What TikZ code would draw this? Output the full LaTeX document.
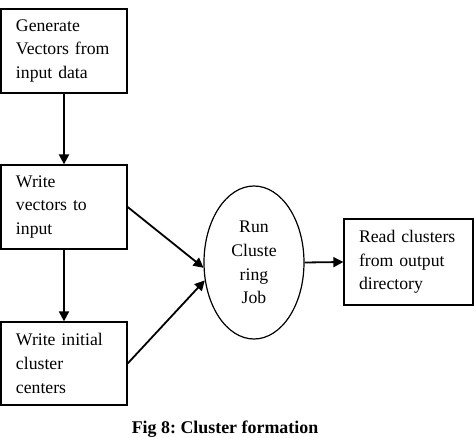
\documentclass[tikz,border=0pt]{standalone}
\usepackage{fontspec}
\setmainfont{Liberation Serif}
\usetikzlibrary{shapes.geometric,arrows.meta}
\frenchspacing
\begin{document}
\begin{tikzpicture}[x=1pt,y=-1pt,
  txt/.style={font=\fontsize{17.7}{23.7}\selectfont},
  box/.style={txt,draw,line width=1.3pt,align=left,text width=96pt,inner xsep=15pt,inner ysep=0pt,minimum height=84pt},
  oval/.style={txt,draw,ellipse,line width=1.2pt,align=center,minimum width=100pt,minimum height=153pt,inner sep=0pt},
  conn/.style={line width=2.2pt,-{Triangle[length=10pt,width=10pt]}}]
\useasboundingbox (0,0) rectangle (475,438);
\node[box] (b1) at (64,51) {Generate\\Vectors from\\input data};
\node[box] (b2) at (64,207) {Write\\vectors to\\input};
\node[box,minimum height=83pt] (b3) at (64,363.5) {Write initial\\cluster\\centers};
\node[oval] (run) at (254,262.5) {Run\\Cluste\\ring\\Job};
\node[box,text width=99pt,minimum height=86pt] (b4) at (408.5,262) {Read clusters\\from output\\directory};
\node[font=\fontsize{17.9}{22}\selectfont\bfseries,anchor=base] (cap) at (225,434) {Fig 8: Cluster formation};
\draw[conn] (b1.south) -- (b2.north);
\draw[conn] (b2.south) -- (b3.north);
\draw[conn,line width=1.8pt] (b2.east) -- (run.186);
\draw[conn,line width=1.8pt] (b3.east) -- (run.200);
\draw[conn,line width=1.8pt] (run.east) -- (b4.west);
\end{tikzpicture}
\end{document}
